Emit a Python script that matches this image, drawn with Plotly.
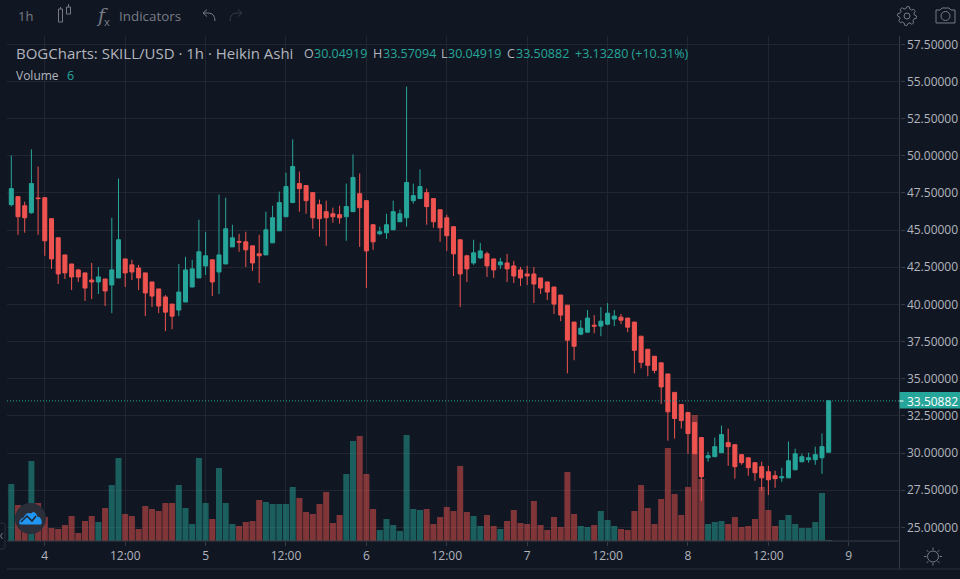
import math
import pandas as pd
import plotly.graph_objects as go

# hourly Heikin Ashi candles
open_ = [46.71, 47.25, 46.64, 46.17, 47.16, 47.18, 45.77, 44.48, 43.33, 42.72,
         42.32, 42.12, 41.64, 41.51, 41.71, 41.31, 41.78, 43.06, 42.66, 42.45,
         42.12, 41.51, 41.04, 40.50, 40.02, 39.62, 40.16, 41.17, 41.78, 42.59,
         43.00, 42.18, 42.72, 43.87, 44.24, 44.21, 43.94, 43.40, 43.33, 44.14,
         44.95, 45.90, 46.85, 48.13, 48.00, 47.52, 46.71, 46.24, 46.10, 46.04,
         45.90, 46.24, 47.45, 46.98, 45.36, 44.75, 44.82, 45.02, 45.56, 45.83,
         46.98, 47.12, 47.52, 47.12, 46.37, 45.83, 45.23, 44.35, 43.27, 42.79,
         43.13, 43.40, 43.06, 42.66, 42.79, 42.59, 42.32, 42.05, 42.05, 41.78,
         41.51, 41.17, 40.63, 39.95, 38.81, 38.00, 38.13, 38.60, 38.54, 38.67,
         39.01, 39.14, 39.08, 38.81, 37.86, 36.98, 36.51, 36.07, 35.32, 34.08,
         33.27, 32.73, 32.05, 31.04, 29.68, 29.75, 30.02, 30.70, 30.56, 29.89,
         29.68, 29.35, 29.08, 28.74, 28.47, 28.33, 28.33, 28.87, 29.41, 29.55,
         29.55, 29.68, 30.04919]
high = [50.02, 47.25, 46.91, 50.43, 49.28, 47.18, 45.77, 44.48, 43.33, 42.72,
        42.39, 42.12, 42.79, 42.52, 41.71, 45.83, 48.47, 43.06, 43.00, 42.66,
        42.12, 41.51, 41.04, 40.63, 40.02, 42.72, 43.20, 43.00, 45.70, 44.89,
        43.00, 47.39, 47.18, 45.36, 44.75, 44.89, 43.94, 44.68, 46.24, 46.64,
        47.59, 48.87, 51.10, 48.94, 48.00, 47.52, 47.05, 46.98, 46.51, 46.64,
        48.13, 50.09, 48.81, 46.98, 45.36, 45.23, 46.10, 46.98, 46.37, 54.65,
        48.13, 49.08, 47.79, 47.12, 46.37, 46.04, 45.23, 44.35, 43.33, 44.35,
        44.14, 43.54, 43.06, 43.13, 43.40, 42.93, 42.52, 42.59, 42.52, 41.78,
        41.51, 41.17, 40.63, 39.95, 38.81, 38.94, 39.62, 39.28, 39.82, 40.09,
        39.62, 39.35, 39.08, 38.81, 37.86, 36.98, 36.51, 36.07, 35.32, 34.08,
        33.27, 32.73, 32.05, 31.04, 30.09, 31.04, 31.85, 31.64, 30.56, 29.89,
        29.68, 29.35, 29.41, 29.14, 28.81, 29.01, 30.77, 30.29, 29.95, 30.02,
        30.43, 31.31, 33.57094]
low = [46.60, 44.68, 44.82, 46.10, 44.68, 43.27, 42.39, 41.37, 41.71, 40.97,
       41.51, 40.23, 40.36, 40.70, 39.89, 39.41, 41.78, 41.17, 41.64, 40.97,
       39.21, 39.82, 39.41, 38.20, 38.33, 39.21, 40.16, 41.17, 41.78, 41.98,
       40.56, 40.70, 42.72, 43.87, 43.54, 42.52, 42.25, 41.44, 43.33, 44.14,
       44.95, 45.90, 46.85, 46.24, 46.10, 45.09, 44.55, 43.94, 45.50, 45.43,
       44.28, 46.24, 43.87, 41.10, 43.67, 44.68, 44.41, 45.02, 45.56, 45.23,
       46.78, 47.12, 45.36, 45.16, 44.21, 43.60, 41.91, 39.82, 41.51, 42.66,
       43.06, 41.85, 41.78, 42.39, 41.51, 41.44, 41.24, 41.31, 40.09, 40.70,
       40.29, 39.35, 38.87, 35.36, 36.24, 37.93, 38.13, 38.06, 37.86, 38.60,
       38.54, 38.67, 38.13, 35.36, 35.70, 35.16, 35.36, 33.30, 30.83, 30.97,
       31.64, 29.95, 29.95, 26.78, 29.41, 29.75, 30.02, 29.14, 28.27, 29.21,
       28.47, 28.13, 27.45, 27.18, 27.66, 28.06, 28.33, 28.87, 29.41, 29.35,
       29.21, 28.60, 30.04919]
close = [47.79, 45.90, 45.83, 48.13, 47.12, 44.28, 43.06, 42.05, 42.12, 41.85,
         41.85, 41.10, 41.51, 41.85, 40.90, 42.32, 44.35, 42.12, 42.18, 41.78,
         40.77, 40.56, 39.89, 39.48, 39.21, 40.83, 42.32, 42.39, 43.54, 43.27,
         41.51, 43.33, 45.09, 44.48, 44.19, 43.67, 42.79, 43.27, 45.02, 45.83,
         46.85, 47.93, 49.28, 47.79, 46.98, 45.83, 45.77, 45.83, 45.90, 45.83,
         46.58, 48.54, 46.51, 43.60, 44.21, 44.89, 45.36, 46.24, 46.10, 48.20,
         47.32, 47.93, 46.58, 45.56, 45.16, 44.62, 43.40, 42.05, 42.39, 43.47,
         43.60, 42.59, 42.32, 42.86, 42.39, 41.91, 41.78, 41.91, 41.37, 41.10,
         40.83, 40.02, 39.28, 37.59, 37.18, 38.40, 39.08, 38.54, 38.87, 39.41,
         39.21, 38.94, 38.47, 36.91, 36.10, 35.90, 35.56, 34.45, 32.77, 32.32,
         32.18, 31.31, 29.95, 28.40, 29.82, 30.43, 31.24, 30.43, 29.08, 29.35,
         29.01, 28.67, 28.33, 28.20, 28.27, 28.40, 29.48, 29.95, 29.75, 29.68,
         29.89, 30.43, 33.50882]
volume = [342, 216, 166, 480, 228, 144, 78, 72, 96, 150,
          48, 120, 150, 114, 198, 336, 498, 162, 150, 72,
          210, 192, 180, 228, 228, 336, 198, 102, 498, 228,
          132, 438, 228, 102, 90, 114, 120, 246, 234, 222,
          222, 222, 324, 258, 174, 162, 222, 294, 108, 156,
          402, 600, 630, 402, 192, 66, 132, 96, 60, 636,
          192, 186, 192, 102, 144, 204, 180, 450, 174, 150,
          90, 156, 90, 72, 120, 186, 108, 102, 240, 96,
          66, 144, 84, 414, 162, 90, 84, 96, 180, 126,
          90, 72, 66, 180, 336, 198, 102, 252, 558, 282,
          156, 324, 756, 372, 102, 114, 120, 102, 144, 84,
          90, 132, 324, 186, 90, 126, 156, 102, 78, 78,
          114, 288, 6]

day_ticks = ["2021-09-04 00:00", "2021-09-04 12:00", "2021-09-05 00:00", "2021-09-05 12:00",
             "2021-09-06 00:00", "2021-09-06 12:00", "2021-09-07 00:00", "2021-09-07 12:00",
             "2021-09-08 00:00", "2021-09-08 12:00", "2021-09-09 00:00"]
day_labels = ["4", "12:00", "5", "12:00", "6", "12:00", "7", "12:00", "8", "12:00", "9"]

UP = "#26a69a"
DOWN = "#ef5350"
BG = "#111722"
GRID = "#212630"
TEXT = "#b2b5be"
ICON = "#787b86"
FONT = "Open Sans"

times = pd.date_range("2021-09-03 19:00", periods=len(close), freq="h")
vol_colors = ["rgba(38,166,154,0.5)" if c >= o else "rgba(239,83,80,0.5)" for o, c in zip(open_, close)]


def px(x, y):
    return f"{x / 960:.5f} {1 - y / 579:.5f}"


def path(cmds):
    # cmds like [("M", 1, 2), ("L", 3, 4)] in screen pixels
    out = ""
    for c in cmds:
        if c[0] == "Z":
            out += "Z"
        else:
            pts = [px(c[i], c[i + 1]) for i in range(1, len(c), 2)]
            out += c[0] + " ".join(pts)
    return out


def line_shape(x0, y0, x1, y1, color, width=1):
    return dict(type="line", xref="paper", yref="paper", x0=x0 / 960, x1=x1 / 960, y0=1 - y0 / 579, y1=1 - y1 / 579,
                line=dict(color=color, width=width))


def box_shape(x0, y0, x1, y1, line=None, fill="rgba(0,0,0,0)", kind="rect"):
    return dict(type=kind, xref="paper", yref="paper", x0=x0 / 960, x1=x1 / 960, y0=1 - y0 / 579, y1=1 - y1 / 579,
                line=dict(color=line or fill, width=1 if line else 0), fillcolor=fill)


def path_shape(cmds, color, fill="rgba(0,0,0,0)", width=1):
    return dict(type="path", xref="paper", yref="paper", path=path(cmds), line=dict(color=color, width=width),
                fillcolor=fill)


def label(x, y, text, color=TEXT, size=12.5, anchor="left", font=FONT):
    # annotations carry about 2px of padding on the left
    return dict(xref="paper", yref="paper", x=(x - 2) / 960, y=1 - y / 579, text=text, showarrow=False, xanchor=anchor,
                yanchor="middle", font=dict(family=font, size=size, color=color))


fig = go.Figure()
fig.add_trace(go.Bar(x=times, y=volume, marker=dict(color=vol_colors, line_width=0), yaxis="y", hoverinfo="skip"))
fig.add_trace(go.Candlestick(x=times, open=open_, high=high, low=low, close=close, yaxis="y2",
                             increasing=dict(line=dict(color=UP, width=1), fillcolor=UP),
                             decreasing=dict(line=dict(color=DOWN, width=1), fillcolor=DOWN),
                             whiskerwidth=0))

shapes = [
    dict(type="line", xref="paper", yref="y2", x0=7 / 960, x1=899 / 960, y0=close[-1], y1=close[-1],
         line=dict(color=UP, width=1, dash="1px,2px")),
    line_shape(7, 541, 900, 541, "#363a45"),
    line_shape(899.5, 36, 899.5, 569, "#363a45"),
    line_shape(7, 569, 960, 569, "#2a2e39"),
    box_shape(899.5, 392, 960, 408.5, fill=UP),
    line_shape(899.5, 401, 903.5, 401, "#ffffff"),
    # chart type icon
    box_shape(58.5, 9, 62.5, 22, line=ICON),
    line_shape(60.5, 7, 60.5, 9, ICON),
    box_shape(66.5, 7, 70.5, 14, line=ICON),
    line_shape(68.5, 4, 68.5, 7, ICON),
    # undo and redo
    path_shape([("M", 215, 21), ("Q", 215, 13, 208, 13), ("L", 203, 13), ("M", 207, 9.5), ("L", 203, 13), ("L", 207, 16.5)], ICON),
    path_shape([("M", 230, 21), ("Q", 230, 13, 237, 13), ("L", 242, 13), ("M", 238, 9.5), ("L", 242, 13), ("L", 238, 16.5)], "#363a45"),
    # camera
    path_shape([("M", 936, 10), ("L", 940, 10), ("L", 942, 8), ("L", 949, 8), ("L", 951, 10), ("L", 955, 10), ("L", 955, 23),
                ("L", 936, 23), ("Z",)], ICON),
    box_shape(941, 11.5, 950, 20.5, line=ICON, kind="circle"),
    # gear middle
    box_shape(904, 13, 910, 19, line=ICON, kind="circle"),
    # sun
    box_shape(927.5, 551, 938.5, 562, line=ICON, kind="circle"),
    # logo and the collapse tab
    box_shape(15, 503, 46, 534, fill="#2a2e39", kind="circle"),
    path_shape([("M", 20, 524), ("Q", 19, 519, 24, 518), ("Q", 26, 512, 31, 514), ("Q", 35, 510, 37, 517), ("Q", 42, 517, 41, 524), ("Z",)],
               "#2196f3", fill="#2196f3"),
    path_shape([("M", 21, 522), ("L", 27, 516), ("L", 32, 521), ("L", 36, 516)], "#1c2733", width=1.5),
    path_shape([("M", 0, 523), ("L", 3, 523), ("Q", 5, 523, 5, 525), ("L", 5, 547), ("Q", 5, 549, 3, 549), ("L", 0, 549)], "#2a2e39"),
    path_shape([("M", 2.5, 533), ("L", 0.5, 536), ("L", 2.5, 539)], "#787b86"),
]

# gear outline and sun rays
gear = []
for k in range(48):
    a = 2 * math.pi * k / 48
    r = 9.5 if (k // 3) % 2 == 0 else 7.5
    gear.append(("M" if k == 0 else "L", 907 + r * math.cos(a), 16 + r * math.sin(a)))
gear.append(("Z",))
shapes.append(path_shape(gear, ICON))
for k in range(8):
    a = math.pi * k / 4
    shapes.append(line_shape(933 + 6.5 * math.cos(a), 556.5 + 6.5 * math.sin(a),
                             933 + 9 * math.cos(a), 556.5 + 9 * math.sin(a), ICON))

annotations = [
    label(16, 53, "BOGCharts: SKILL/USD · 1h · Heikin Ashi", size=15),
    label(304, 53, "O", size=12.5), label(314, 53, "30.04919", color=UP),
    label(372.5, 53, "H", size=12.5), label(382.5, 53, "33.57094", color=UP),
    label(440.5, 53, "L", size=12.5), label(448, 53, "30.04919", color=UP),
    label(506.5, 53, "C", size=12.5), label(515.5, 53, "33.50882", color=UP),
    label(575, 53, "+3.13280 (+10.31%)", color=UP),
    label(16, 76, "Volume", size=12), label(66.5, 76, "6", color=UP),
    label(18, 16, "1h", color=ICON, size=13),
    label(119, 16, "Indicators", color=ICON, size=13.4),
    label(96, 15, "<i>f</i>", color=ICON, size=19, font="DejaVu Serif"),
    label(104, 21, "x", color=ICON, size=11),
    label(907, 401, "33.50882", color="#ffffff", size=12),
]

fig.update_layout(
    width=960, height=579,
    margin=dict(l=0, r=0, t=0, b=0),
    paper_bgcolor=BG, plot_bgcolor=BG,
    showlegend=False,
    bargap=0.1, boxgap=0.2, boxgroupgap=0.25,
    shapes=shapes, annotations=annotations,
    font=dict(family=FONT, size=12, color=TEXT),
    xaxis=dict(domain=[7 / 960, 899.5 / 960], type="date",
               range=["2021-09-03 18:21:30", "2021-09-09 07:34:12"],
               tickmode="array", tickvals=day_ticks, ticktext=day_labels, tickangle=0,
               showgrid=True, gridcolor=GRID, gridwidth=1,
               ticks="outside", ticklen=4, tickcolor="#363a45",
               tickfont=dict(family=FONT, size=12, color=TEXT),
               zeroline=False, showline=False, rangeslider=dict(visible=False)),
    yaxis=dict(domain=[1 - 541 / 579, 1 - 36 / 579], range=[0, 3030], visible=False, fixedrange=True),
    yaxis2=dict(domain=[1 - 541 / 579, 1 - 36 / 579], overlaying="y", side="right", anchor="x",
                range=[24.08, 58.06], tick0=25, dtick=2.5, tickformat=".5f",
                showgrid=True, gridcolor=GRID, gridwidth=1, zeroline=False, showline=False,
                ticks="outside", ticklen=4, tickcolor="#363a45",
                tickfont=dict(family=FONT, size=12, color=TEXT)),
)

fig.write_html("out.html", config=dict(displayModeBar=False),
               post_script="document.body.style.margin='0';document.body.style.overflow='hidden';")
